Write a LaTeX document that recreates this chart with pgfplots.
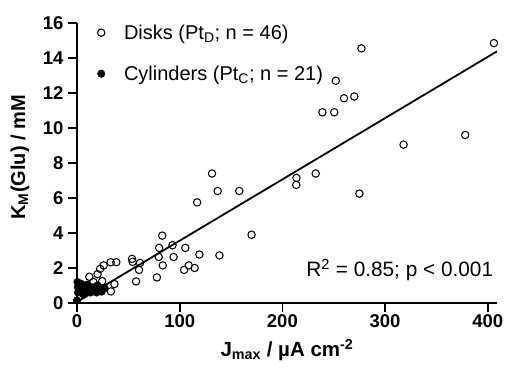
\documentclass[border=0pt]{standalone}
\usepackage{fontspec}
\setmainfont{Liberation Sans}
\usepackage{pgfplots}
\pgfplotsset{compat=1.18}
\begin{document}
\begin{tikzpicture}[font=\fontsize{19}{22}\selectfont]
\path[use as bounding box] (-77pt,-71pt) rectangle (430pt,303pt);
\begin{axis}[
  scale only axis, width=420pt, height=280pt,
  xmin=0, xmax=409, ymin=0, ymax=16,
  axis x line*=bottom, axis y line*=left,
  axis line style={line width=1.7pt,-},
  xtick={0,100,200,300,400}, ytick={0,2,4,6,8,10,12,14,16},
  tick align=outside, major tick length=9pt,
  tick style={line width=1.7pt, black},
  /pgf/number format/assume math mode=true,
  ticklabel style={font=\fontsize{18.5}{21}\selectfont\bfseries},
  xticklabel style={yshift=1pt},
  yticklabel style={xshift=-1pt},
  clip=false,
  xlabel={\bfseries J\textsubscript{max} / µA cm\textsuperscript{-2}},
  ylabel={\bfseries K\textsubscript{M}(Glu) / mM},
  xlabel style={at={(axis description cs:0.5,-0.168)}, anchor=center, font=\fontsize{20.5}{24}\selectfont},
  ylabel style={at={(axis description cs:-0.136,0.52)}, anchor=center, font=\fontsize{20}{24}\selectfont},
  legend style={at={(axis description cs:0.041,1.0)}, anchor=north west, yshift=2.5pt, draw=none, fill=none,
     font=\fontsize{20}{23}\selectfont, row sep=21pt, legend cell align=left,
     /tikz/every odd column/.append style={column sep=17pt}},
]
\addplot[only marks, mark=o, mark size=3.7pt, mark options={line width=1.05pt, black}] coordinates {
(406,14.85) (277,14.55) (252,12.7) (260,11.7) (270,11.8) (239,10.9) (250.5,10.9)
(378,9.6) (318,9.05) (275,6.25) (232.5,7.4) (213.7,7.15) (213.5,6.75) (131.5,7.4)
(137,6.4) (158,6.4) (117,5.75) (170,3.9) (83,3.85) (80,3.15) (93,3.3) (105.5,3.15)
(79.6,2.63) (94.1,2.63) (119.2,2.77) (138.7,2.72) (83.5,2.15) (53.6,2.52) (54.2,2.35)
(61.4,2.29) (60.4,1.89) (108.8,2.15) (104.3,1.89) (114.6,2.0) (57.5,1.23) (77.8,1.46)
(22.5,1.95) (26,2.15) (32.8,2.33) (38.3,2.33) (12,1.5) (20,1.65) (24.5,1.25)
(36.5,1.08) (33,0.66) (16,1.2)
};
\addlegendentry{Disks (Pt\textsubscript{D}; n = 46)}
\addplot[only marks, mark=*, mark size=3.8pt, mark options={black}] coordinates {
(0,0.15) (0.5,1.2) (0.8,0.9) (1,0.6) (2,1.0) (3,0.7) (4,1.1) (5,0.8) (6,0.5)
(8,0.95) (9,0.7) (10,1.05) (12,0.8) (13,0.6) (15,0.9) (17,0.75) (19,0.6) (20,1.0)
(22,0.7) (24,0.65) (27,0.85)
};
\addlegendentry{Cylinders (Pt\textsubscript{C}; n = 21)}
\addplot[line width=1.8pt, black, forget plot] coordinates {(0,0.06) (409,14.38)};
\node[anchor=west, font=\fontsize{20.8}{24}\selectfont] at (axis cs:220,1.88) {R\textsuperscript{2} = 0.85; p < 0.001};
\end{axis}
\end{tikzpicture}
\end{document}
